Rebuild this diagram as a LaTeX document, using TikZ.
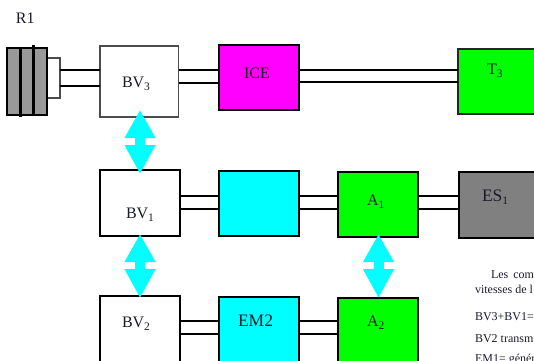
\documentclass[tikz,border=0pt]{standalone}
\usepackage{fontspec}
\setmainfont{Liberation Serif}
\usetikzlibrary{arrows.meta}
\definecolor{ink}{HTML}{1A1A2A}
\definecolor{pcyan}{HTML}{00FFFF}
\definecolor{pmag}{HTML}{FF00FF}
\definecolor{pgreen}{HTML}{00FF00}
\definecolor{pgray}{HTML}{808080}
\definecolor{rgray}{HTML}{999999}
\tikzset{
  x=1pt,y=-1pt,
  unit/.style={draw=black,line width=2.8pt,outer sep=0pt,inner sep=0pt,anchor=north west},
  thinunit/.style={draw=black!70,line width=1.6pt,outer sep=0pt,inner sep=0pt,anchor=north west},
  shaft/.style={draw=black,line width=1.6pt},
  dbl/.style={draw=pcyan,line width=10pt,{Triangle[length=28pt,width=29pt]}-{Triangle[length=29pt,width=29pt]}},
  lab/.style={anchor=base west,inner sep=0pt,outer sep=0pt,font=\fontsize{16}{18}\selectfont,text=ink},
  lablarge/.style={lab,font=\fontsize{17.5}{19}\selectfont},
  small/.style={anchor=base west,inner sep=0pt,outer sep=0pt,font=\fontsize{12}{14}\selectfont,text=ink},
}
\newcommand{\sbs}[1]{\raisebox{-3.2pt}{\fontsize{11.5}{12}\selectfont #1}}
\begin{document}
\begin{tikzpicture}
\useasboundingbox (0,0) rectangle (534,360);
\clip (0,0) rectangle (534,360);
% units
\node[thinunit,fill=white,minimum width=78.5pt,minimum height=71pt] (bv3) at (100,46) {};
\node[unit,fill=pmag,minimum width=80pt,minimum height=65pt] (ice) at (219,45) {};
\node[thinunit,draw=black!85,fill=pgreen,minimum width=82pt,minimum height=65pt] (t3) at (458,49) {};
\node[unit,fill=white,minimum width=80pt,minimum height=66pt] (bv1) at (100,170) {};
\node[unit,fill=pcyan,minimum width=80pt,minimum height=65pt] (em1) at (219,171) {};
\node[unit,fill=pgreen,minimum width=80pt,minimum height=65pt] (a1) at (338,172) {};
\node[unit,fill=pgray,minimum width=82pt,minimum height=66pt] (es1) at (459,172) {};
\node[unit,fill=white,minimum width=80pt,minimum height=74pt] (bv2) at (100,296) {};
\node[unit,fill=pcyan,minimum width=80pt,minimum height=73pt] (em2) at (219,297) {};
\node[unit,fill=pgreen,minimum width=80pt,minimum height=72pt] (a2) at (338,298) {};
% R1 drum
\node[thinunit,fill=white,minimum width=13pt,minimum height=40pt] (hub) at (47,58) {};
\node[unit,fill=rgray,minimum width=40pt,minimum height=67pt] (r1) at (7,48) {};
\draw[line width=2.8pt] (20.5,48) -- (20.5,117);
\draw[line width=2.8pt] (33.5,45) -- (33.5,115);
% shafts
\foreach \yy in {70,86} \draw[shaft] (hub.east|-0,\yy) -- (bv3.west|-0,\yy);
\foreach \yy in {70,83} \draw[shaft] (bv3.east|-0,\yy) -- (ice.west|-0,\yy);
\foreach \yy in {70,82} \draw[shaft] (ice.east|-0,\yy) -- (t3.west|-0,\yy);
\foreach \yy in {196,209} {
  \draw[shaft] (bv1.east|-0,\yy) -- (em1.west|-0,\yy);
  \draw[shaft] (em1.east|-0,\yy) -- (a1.west|-0,\yy);
  \draw[shaft] (a1.east|-0,\yy) -- (es1.west|-0,\yy);
}
\foreach \yy in {321,334} {
  \draw[shaft] (bv2.east|-0,\yy) -- (em2.west|-0,\yy);
  \draw[shaft] (em2.east|-0,\yy) -- (a2.west|-0,\yy);
}
% double arrows
\coordinate (p1) at (140,110); \coordinate (q1) at (140,174);
\coordinate (p2) at (140,234); \coordinate (q2) at (140,298);
\coordinate (p3) at (378.5,234); \coordinate (q3) at (378.5,298);
\draw[dbl] (p1) -- (q1);
\draw[dbl] (p2) -- (q2);
\draw[dbl] (p3) -- (q3);
% labels
\node[lab] (tr1) at (16,23) {R1};
\node[lab] (tbv3) at (122,87) {BV\sbs{3}};
\node[lab] (tice) at (244,78.5) {ICE};
\node[lab] (tt3) at (487,74.5) {T\sbs{3}};
\node[lab] (tbv1) at (126,218) {BV\sbs{1}};
\node[lab] (ta1) at (367,205) {A\sbs{1}};
\node[lablarge] (tes1) at (482,201) {ES\sbs{1}};
\node[lab] (tbv2) at (122,327) {BV\sbs{2}};
\node[lablarge] (tem2) at (238,326) {EM2};
\node[lab] (ta2) at (367,326) {A\sbs{2}};
% text
\node[small] (l1) at (491,278) {Les\hspace{5pt}com};
\node[small] (l2) at (475,293) {vitesses de l};
\node[small] (l3) at (475,320) {BV3+BV1=};
\node[small] (l4) at (475,342) {BV2 transm};
\node[small] (l5) at (475,362.5) {EM1= génér};
\end{tikzpicture}
\end{document}
